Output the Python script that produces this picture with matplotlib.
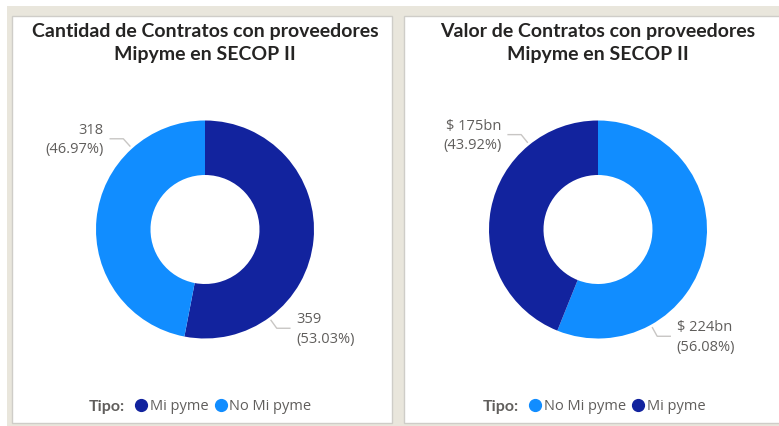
import matplotlib.pyplot as plt
import numpy as np
from matplotlib.patches import Rectangle
from matplotlib.lines import Line2D

plt.rcParams['font.family'] = ['Open Sans', 'DejaVu Sans']

# data
cantidad_tipos = ['Mi pyme', 'No Mi pyme']
cantidad_valores = [359, 318]
valor_tipos = ['No Mi pyme', 'Mi pyme']
valor_valores = [224.0, 175.4]  # miles de millones (bn)
colores = {'Mi pyme': '#12239E', 'No Mi pyme': '#118DFF'}

titulo_1 = 'Cantidad de Contratos con proveedores\nMipyme en SECOP II'
titulo_2 = 'Valor de Contratos con proveedores\nMipyme en SECOP II'

W, H = 779, 426
R = 109  # radio del donut en px
beige = '#E9E6DC'
gris_texto = '#605E5C'
gris_linea = '#C8C6C4'

fig = plt.figure(figsize=(W / 100, H / 100), dpi=100)
fig.patch.set_facecolor('white')
bg = fig.add_axes([0, 0, 1, 1])
bg.set_xlim(0, W)
bg.set_ylim(H, 0)
bg.axis('off')
bg.add_patch(Rectangle((7, 6), W - 7, H - 6, fc=beige, ec='none'))
bg.add_patch(Rectangle((12, 16), 380, 407, fc='white', ec='#CFCDC8', lw=1))
bg.add_patch(Rectangle((404, 16), 390, 407, fc='white', ec='#CFCDC8', lw=1))


def donut(cx, cy, tipos, valores, etiquetas, angulos):
    s = 2 * 1.6 * R
    ax = fig.add_axes([(cx - s / 2) / W, (H - cy - s / 2) / H, s / W, s / H])
    ax.pie(valores, colors=[colores[t] for t in tipos], startangle=90,
           counterclock=False, radius=1,
           wedgeprops=dict(width=0.5, linewidth=0))
    ax.set_xlim(-1.6, 1.6)
    ax.set_ylim(-1.6, 1.6)
    ax.set_aspect('equal')
    ax.axis('off')
    for txt, ang in zip(etiquetas, angulos):
        a = np.radians(ang)
        x0, y0 = 1.03 * np.cos(a), 1.03 * np.sin(a)
        x1, y1 = 1.12 * np.cos(a), 1.12 * np.sin(a)
        lado = 1 if np.cos(a) > 0 else -1
        x2 = x1 + lado * 0.12
        ax.plot([x0, x1, x2], [y0, y1, y1], color=gris_linea, lw=1,
                clip_on=False)
        ax.text(x2 + lado * 0.06, y1 - 0.01, txt, ha='left' if lado > 0 else 'right',
                va='center', fontsize=10.5, color=gris_texto, linespacing=1.4)
    return ax


tot1 = sum(cantidad_valores)
etq1 = [f'{v}\n({v / tot1 * 100:.2f}%)' for v in cantidad_valores]
donut(205, 229.5, cantidad_tipos, cantidad_valores, etq1, [-54, 132])

tot2 = sum(valor_valores)
etq2 = [f'$ {v:.0f}bn\n({v / tot2 * 100:.2f}%)' for v in valor_valores]
donut(598, 229.5, valor_tipos, valor_valores, etq2, [-61, 129])

# titulos
for cx, titulo in [(205, titulo_1), (598, titulo_2)]:
    bg.text(cx, 43, titulo, ha='center', va='center', fontsize=14,
            family=['Lato', 'DejaVu Sans'], fontweight='bold',
            color='#252423', linespacing=1.4)


# leyendas
def leyenda(x_tipo, tipos):
    bg.text(x_tipo, 407, 'Tipo:', ha='right', va='center', fontsize=11.5,
            family=['Lato', 'DejaVu Sans'], fontweight='bold',
            color=gris_texto)
    handles = [Line2D([], [], marker='o', ls='', color=colores[t], markersize=8.5)
               for t in tipos]
    fig.legend(handles, tipos, loc='center left', ncol=2, frameon=False,
               bbox_to_anchor=((x_tipo + 10) / W, 1 - 407 / H),
               fontsize=10.5, labelcolor=gris_texto, handlelength=0.8,
               handletextpad=0.2, columnspacing=0.45, borderpad=0,
               borderaxespad=0)


leyenda(125, cantidad_tipos)
leyenda(519, valor_tipos)

plt.savefig('out.png', dpi=100)
